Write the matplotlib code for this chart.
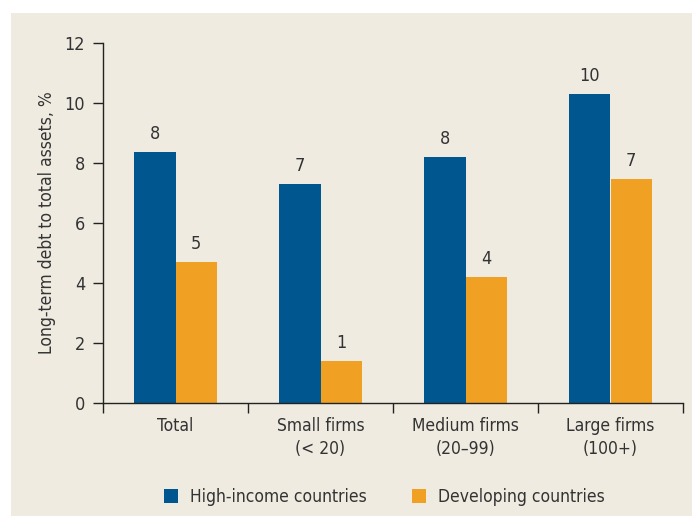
import numpy as np
import matplotlib.pyplot as plt
from matplotlib.patches import Patch, Rectangle

categories = ['Total', 'Small firms\n(< 20)', 'Medium firms\n(20–99)', 'Large firms\n(100+)']
high_income = [8.35, 7.3, 8.2, 10.3]
developing = [4.7, 1.4, 4.2, 7.45]
series_names = ['High-income countries', 'Developing countries']

blue = '#00578f'
orange = '#f0a124'
bg = '#efebe1'
text_col = '#333333'
fs = 12.5

plt.rcParams['font.family'] = ['DejaVu Sans']
plt.rcParams['font.stretch'] = 'condensed'
plt.rcParams['text.color'] = text_col

fig = plt.figure(figsize=(6.92, 5.16), dpi=100)
# beige panel behind everything
fig.patches.append(Rectangle((11 / 692, 0), 1, 1 - 13 / 516, transform=fig.transFigure,
                             facecolor=bg, edgecolor='none', zorder=-10))

ax = fig.add_axes([103 / 692, 113 / 516, 580 / 692, 360 / 516])
ax.set_facecolor('none')

x = np.arange(len(categories))
w = 0.283
b1 = ax.bar(x - w / 2, high_income, width=w, color=blue)
b2 = ax.bar(x + w / 2, developing, width=w, color=orange)

for bars, vals in [(b1, high_income), (b2, developing)]:
    for bar, v in zip(bars, vals):
        ax.text(bar.get_x() + bar.get_width() / 2, v + 0.3, f'{v:.0f}',
                ha='center', va='bottom', fontsize=13, color=text_col)

ax.set_xlim(-0.5, len(categories) - 0.5)
ax.set_ylim(0, 12)
ax.set_yticks(range(0, 13, 2))
ax.set_xticks(np.arange(-0.5, len(categories), 1))
ax.set_xticklabels([])
ax.set_xticks(x, minor=True)
ax.set_xticklabels(categories, minor=True, fontsize=fs, color=text_col, linespacing=1.35)
ax.tick_params(axis='x', which='minor', length=0, pad=10)
ax.tick_params(axis='x', which='major', length=7, width=1, color='#222222')
ax.tick_params(axis='y', length=7, width=1, color='#222222', labelsize=13,
               labelcolor=text_col, pad=6)

for s in ['top', 'right']:
    ax.spines[s].set_visible(False)
for s in ['left', 'bottom']:
    ax.spines[s].set_color('#222222')
    ax.spines[s].set_linewidth(1)

ax.set_ylabel('Long-term debt to total assets, %', fontsize=fs, color=text_col, labelpad=6)

handles = [Patch(facecolor=blue), Patch(facecolor=orange)]
fig.legend(handles, series_names, loc='center', bbox_to_anchor=(0.555, 19 / 516), ncol=2,
           frameon=False, fontsize=fs, handlelength=0.8, handleheight=0.85,
           columnspacing=2.6, handletextpad=0.7)

fig.savefig('out.png', dpi=100, facecolor='white')
